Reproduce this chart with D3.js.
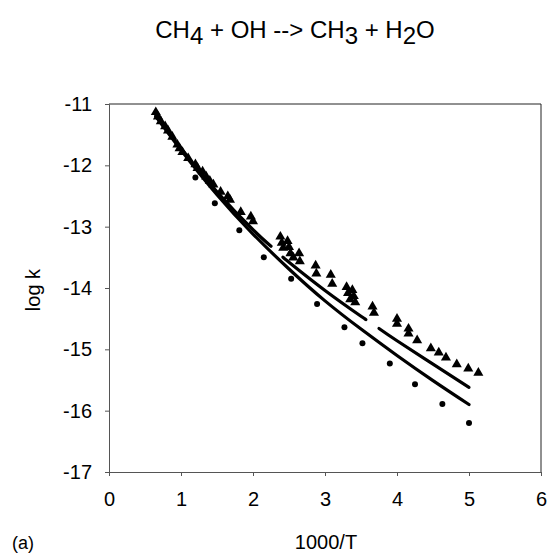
<!DOCTYPE html>
<html><head><meta charset="utf-8">
<script src="https://cdn.jsdelivr.net/npm/d3@7"></script>
<style>body{margin:0;background:#fff}svg{display:block}text{font-family:"Liberation Sans",Arial,sans-serif;fill:#000}</style>
</head><body><svg id="c" width="554" height="554"></svg>
<script>
const xTicks = [0,1,2,3,4,5,6];
const yTicks = [-11,-12,-13,-14,-15,-16,-17];
const triX = [0.65,0.68,0.72,0.78,0.82,0.88,0.95,0.98,1.02,1.1,1.2,1.23,1.3,1.35,1.4,1.45,1.55,1.65,1.68,1.83,1.97,2.0,2.38,2.4,2.42,2.48,2.5,2.52,2.56,2.64,2.65,2.87,2.88,3.08,3.1,3.3,3.32,3.35,3.38,3.4,3.42,3.66,3.68,4.0,4.0,4.16,4.16,4.28,4.47,4.58,4.68,4.83,4.99,5.13];
const triY = [-11.15,-11.22,-11.3,-11.38,-11.45,-11.55,-11.68,-11.74,-11.8,-11.9,-12.0,-12.06,-12.12,-12.2,-12.27,-12.33,-12.45,-12.52,-12.58,-12.78,-12.85,-12.93,-13.18,-13.28,-13.36,-13.25,-13.35,-13.45,-13.52,-13.45,-13.58,-13.65,-13.78,-13.8,-13.95,-14.0,-14.1,-14.2,-14.05,-14.15,-14.25,-14.32,-14.42,-14.52,-14.6,-14.68,-14.76,-14.87,-15.0,-15.07,-15.15,-15.26,-15.33,-15.4];
const dotX = [1.2,1.47,1.81,2.15,2.53,2.89,3.27,3.52,3.9,4.25,4.63,5.0];
const dotY = [-12.2,-12.62,-13.06,-13.5,-13.85,-14.26,-14.64,-14.9,-15.23,-15.57,-15.89,-16.2];
const lowX = [0.65,1.0,1.5,2.0,2.5,3.0,3.5,4.0,4.5,5.0];
const lowY = [-11.2,-11.75,-12.48,-13.12,-13.69,-14.21,-14.67,-15.1,-15.51,-15.9];
const upX = [0.65,1.0,1.5,2.0,2.25,2.42,2.5,3.0,3.5,3.55,3.75,4.0,4.5,5.0];
const upY = [-11.2,-11.72,-12.43,-13.05,-13.32,-13.5,-13.58,-14.04,-14.46,-14.5,-14.66,-14.86,-15.24,-15.62];
const upSeg = [0,0,0,0,0,1,1,1,1,1,2,2,2,2];

const svg = d3.select("#c");
const x = d3.scaleLinear().domain([0,6]).range([109,541]);
const y = d3.scaleLinear().domain([-17,-11]).range([472,104]);

svg.append("line").attr("x1",x(0)).attr("x2",x(6)).attr("y1",y(-11)).attr("y2",y(-11)).attr("stroke","#222").attr("stroke-width",1);
svg.append("line").attr("x1",x(6)).attr("x2",x(6)).attr("y1",y(-11)).attr("y2",y(-17)).attr("stroke","#222").attr("stroke-width",1);

const xa = svg.append("g").attr("transform",`translate(0,${y(-17)})`)
  .call(d3.axisBottom(x).tickValues(xTicks).tickSize(4).tickPadding(16).tickFormat(d3.format("d")));
const ya = svg.append("g").attr("transform",`translate(${x(0)},0)`)
  .call(d3.axisLeft(y).tickValues(yTicks).tickSize(4).tickPadding(13).tickFormat(d=>String(d)));
[xa,ya].forEach(g=>{
  g.select(".domain").attr("stroke","#555");
  g.selectAll(".tick line").attr("stroke","#555");
  g.selectAll("text").style("font-size","20px").attr("fill","#000");
});

const line = d3.line().x(d=>x(d[0])).y(d=>y(d[1])).curve(d3.curveNatural);
const low = lowX.map((v,i)=>[v,lowY[i]]);
svg.append("path").attr("d",line(low)).attr("fill","none").attr("stroke","#000").attr("stroke-width",3.2).attr("stroke-linecap","round");
const up = upX.map((v,i)=>[v,upY[i],upSeg[i]]);
[0,1,2].forEach(s=>{
  svg.append("path").attr("d",line(up.filter(d=>d[2]===s))).attr("fill","none").attr("stroke","#000").attr("stroke-width",3.2).attr("stroke-linecap","round");
});

svg.selectAll(".dot").data(dotX.map((v,i)=>[v,dotY[i]])).enter().append("circle")
  .attr("cx",d=>x(d[0])).attr("cy",d=>y(d[1])).attr("r",3).attr("fill","#000");
const tri = d3.symbol().type(d3.symbolTriangle).size(44);
svg.selectAll(".tri").data(triX.map((v,i)=>[v,triY[i]])).enter().append("path")
  .attr("d",tri).attr("transform",d=>`translate(${x(d[0])},${y(d[1])-1})`).attr("fill","#000");

const t = svg.append("text").attr("x",295).attr("y",38).attr("text-anchor","middle").style("font-size","24px");
[["CH",0],["4",1],[" + OH --> CH",0],["3",1],[" + H",0],["2",1],["O",0]].forEach(([s,sub],i,arr)=>{
  const ts = t.append("tspan").text(s);
  if(sub) ts.attr("dy",6);
  else if(i>0 && arr[i-1][1]) ts.attr("dy",-6);
});
svg.append("text").attr("transform","translate(40,290) rotate(-90)").attr("text-anchor","middle").style("font-size","20px").text("log k");
svg.append("text").attr("x",326).attr("y",549).attr("text-anchor","middle").style("font-size","20px").text("1000/T");
svg.append("text").attr("x",12).attr("y",549).style("font-size","18px").text("(a)");
</script></body></html>
